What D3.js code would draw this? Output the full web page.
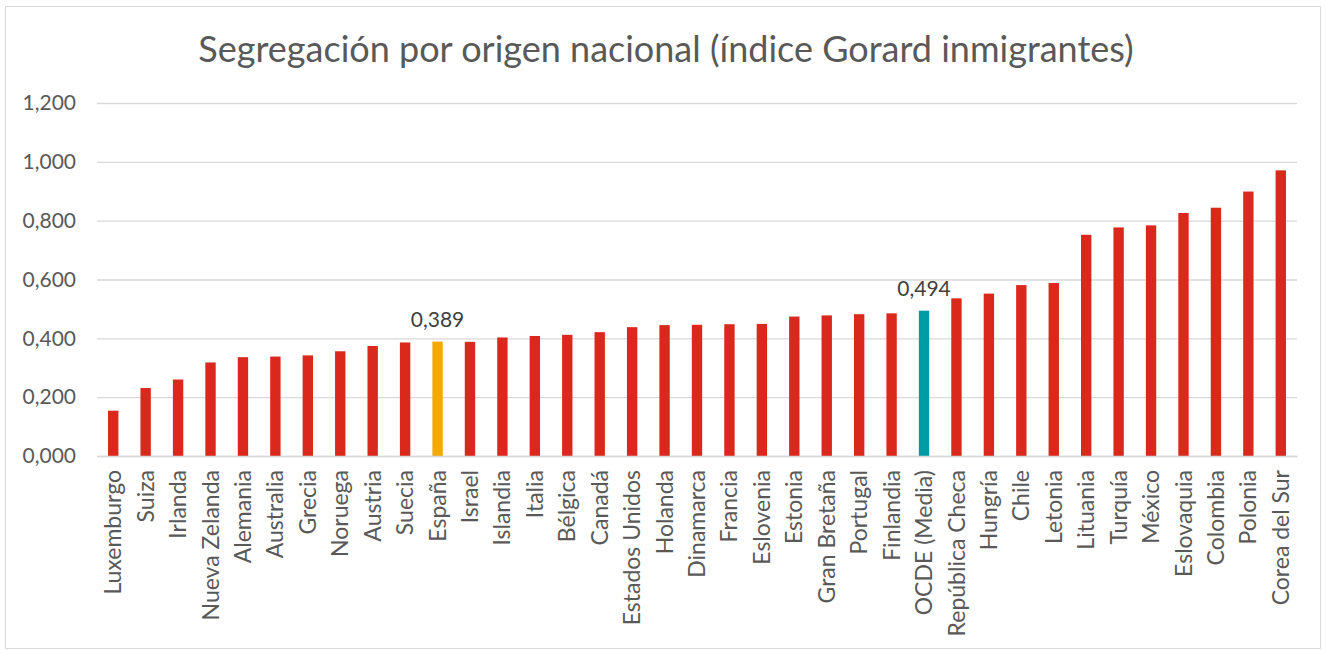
<!DOCTYPE html>
<html>
<head>
<meta charset="utf-8">
<script src="https://cdn.jsdelivr.net/npm/d3@7"></script>
<style>
  body { margin: 0; background: #fff; }
  text { font-family: Lato, "Noto Sans", sans-serif; }
</style>
</head>
<body>
<div id="chart"></div>
<script>
// data
const countries = ["Luxemburgo", "Suiza", "Irlanda", "Nueva Zelanda", "Alemania", "Australia", "Grecia",
  "Noruega", "Austria", "Suecia", "España", "Israel", "Islandia", "Italia", "Bélgica", "Canadá",
  "Estados Unidos", "Holanda", "Dinamarca", "Francia", "Eslovenia", "Estonia", "Gran Bretaña",
  "Portugal", "Finlandia", "OCDE (Media)", "República Checa", "Hungría", "Chile", "Letonia",
  "Lituania", "Turquía", "México", "Eslovaquia", "Colombia", "Polonia", "Corea del Sur"];
const values = [0.154, 0.231, 0.260, 0.318, 0.336, 0.338, 0.342, 0.356, 0.374, 0.386, 0.389, 0.388,
  0.403, 0.408, 0.412, 0.421, 0.438, 0.445, 0.446, 0.448, 0.449, 0.474, 0.478, 0.482, 0.485, 0.494,
  0.536, 0.552, 0.581, 0.588, 0.752, 0.777, 0.784, 0.826, 0.844, 0.899, 0.971];
const yTicks = [0, 0.2, 0.4, 0.6, 0.8, 1.0, 1.2];
const labelled = ["España", "OCDE (Media)"];

const W = 1326, H = 650;
const margin = {top: 103, right: 29, bottom: 194, left: 97};
const width = W - margin.left - margin.right,
    height = H - margin.top - margin.bottom;

const fmt = v => d3.format(".3f")(v).replace(".", ",");
const colorOf = c => c === "España" ? "#f2a900" : c === "OCDE (Media)" ? "#009ca6" : "#da291c";

const svg = d3.select("#chart").append("svg")
    .attr("width", W)
    .attr("height", H);

// outer frame
svg.append("rect")
    .attr("x", 5.5).attr("y", 6.5)
    .attr("width", 1315).attr("height", 642)
    .attr("fill", "#fff")
    .attr("stroke", "#d9d9d9");

svg.append("text")
    .attr("x", 666).attr("y", 62)
    .attr("text-anchor", "middle")
    .attr("fill", "#595959")
    .style("font-size", "36px")
    .text("Segregación por origen nacional (índice Gorard inmigrantes)");

const body = svg.append("g")
    .attr("transform", "translate(" + margin.left + "," + margin.top + ")");

const x = d3.scaleBand()
    .domain(countries)
    .range([0, width])
    .paddingInner(0.68)
    .paddingOuter(0.34);

const y = d3.scaleLinear()
    .domain([0, 1.2])
    .range([height, 0]);

// Y axis with gridlines
const yAxis = body.append("g")
    .call(d3.axisLeft(y).tickValues(yTicks).tickFormat(fmt).tickSize(-width).tickPadding(21));
yAxis.select(".domain").remove();
yAxis.selectAll(".tick line").attr("stroke", "#d9d9d9").attr("stroke-width", 1.3);
yAxis.selectAll(".tick text")
    .attr("fill", "#595959")
    .style("font-size", "21px");

// bars
body.append("g")
    .selectAll("rect")
    .data(countries)
    .enter()
    .append("rect")
    .attr("x", d => x(d))
    .attr("y", (d, i) => y(values[i]))
    .attr("width", x.bandwidth())
    .attr("height", (d, i) => height - y(values[i]))
    .attr("fill", d => colorOf(d));

// data labels
body.append("g")
    .selectAll("text")
    .data(labelled)
    .enter()
    .append("text")
    .attr("x", d => x(d) + x.bandwidth() / 2)
    .attr("y", d => y(values[countries.indexOf(d)]) - 15)
    .attr("text-anchor", "middle")
    .attr("fill", "#404040")
    .style("font-size", "21px")
    .text(d => fmt(values[countries.indexOf(d)]));

// X axis
const xAxis = body.append("g")
    .attr("transform", "translate(0," + height + ")")
    .call(d3.axisBottom(x).tickSize(0).tickPadding(0));
xAxis.select(".domain").attr("stroke", "#d9d9d9").attr("stroke-width", 1.3);
xAxis.selectAll(".tick text")
    .attr("fill", "#595959")
    .style("font-size", "23px")
    .attr("text-anchor", "end")
    .attr("dy", "0.35em")
    .attr("transform", "translate(0,14) rotate(-90)");
</script>
</body>
</html>
